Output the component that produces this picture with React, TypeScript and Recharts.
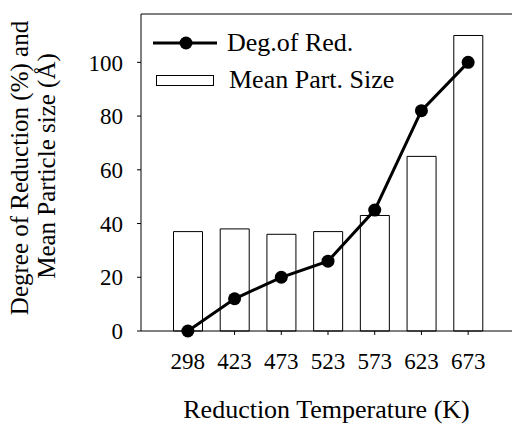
import { ComposedChart, Bar, Line, XAxis, YAxis, ReferenceLine } from "recharts";

const temps = ["298", "423", "473", "523", "573", "623", "673"];
const degOfRed = [0, 12, 20, 26, 45, 82, 100];
const meanPartSize = [37, 38, 36, 37, 43, 65, 110];
const yTicks = [0, 20, 40, 60, 80, 100];

const data = temps.map((t, i) => ({ temp: t, red: degOfRed[i], size: meanPartSize[i] }));

const font = "'Liberation Serif', 'DejaVu Serif', serif";

function YTitle() {
  return (
    <g fontFamily={font} fontSize={25} fill="#000" textAnchor="middle">
      <text x={0} y={0} transform="translate(28,168) rotate(-90)">
        Degree of Reduction (%) and
      </text>
      <text x={0} y={0} transform="translate(55,166) rotate(-90)">
        Mean Particle size (Å)
      </text>
    </g>
  );
}

function LegendBox() {
  return (
    <div
      style={{
        position: "absolute",
        left: 151,
        top: 24,
        fontFamily: font,
        fontSize: 26,
        color: "#000",
        lineHeight: "37px",
        pointerEvents: "none",
      }}
    >
      <div style={{ display: "flex", alignItems: "center" }}>
        <svg width={68} height={20} style={{ marginRight: 8 }}>
          <line x1={2} y1={10} x2={66} y2={10} stroke="#000" strokeWidth={3} />
          <circle cx={35} cy={10} r={6.5} fill="#000" />
        </svg>
        <span>Deg.of Red.</span>
      </div>
      <div style={{ display: "flex", alignItems: "center" }}>
        <svg width={68} height={20} style={{ marginRight: 10 }}>
          <rect x={5.5} y={5.5} width={57} height={10} fill="#fff" stroke="#000" strokeWidth={1} />
        </svg>
        <span>Mean Part. Size</span>
      </div>
    </div>
  );
}

export default function App() {
  return (
    <div style={{ position: "absolute", left: 0, top: 0, width: 512, height: 425, background: "#fff" }}>
      <ComposedChart
        width={512}
        height={425}
        data={data}
        margin={{ top: 14, right: 0, bottom: 0, left: 0 }}
        style={{ fontFamily: font }}
      >
        <XAxis
          dataKey="temp"
          height={94}
          padding={{ left: 23.5, right: 20.5 }}
          stroke="#000"
          tick={{ fill: "#000", fontSize: 23 }}
          tickSize={4}
          tickMargin={18}
          label={{
            value: "Reduction Temperature (K)",
            position: "insideBottom",
            offset: 7,
            fill: "#000",
            fontSize: 26,
          }}
        />
        <YAxis
          width={141}
          domain={[0, 118]}
          ticks={yTicks}
          stroke="#000"
          tick={{ fill: "#000", fontSize: 23 }}
          tickSize={4}
          tickMargin={14}
          label={{ content: () => <YTitle /> }}
        />
        <ReferenceLine y={118} stroke="#000" strokeWidth={1} />
        <Bar dataKey="size" barSize={29} fill="#fff" stroke="#000" strokeWidth={1} isAnimationActive={false} />
        <Line
          dataKey="red"
          stroke="#000"
          strokeWidth={3}
          dot={{ r: 6.5, fill: "#000", stroke: "#000", strokeWidth: 0 }}
          isAnimationActive={false}
        />
      </ComposedChart>
      <LegendBox />
    </div>
  );
}
